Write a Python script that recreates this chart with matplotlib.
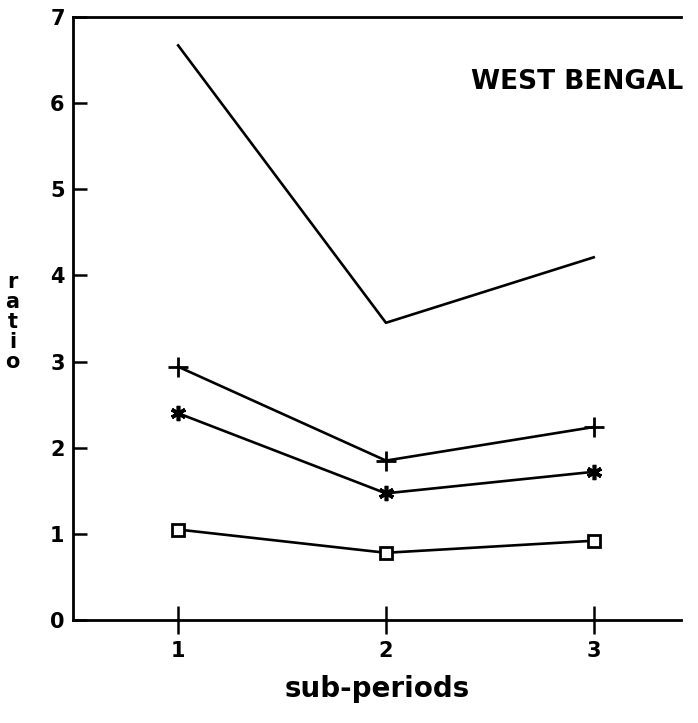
import matplotlib
matplotlib.use('Agg')
import numpy as np
import matplotlib.pyplot as plt

periods = [1, 2, 3]
top_line = [6.67, 3.45, 4.21]
plus_line = [2.94, 1.85, 2.24]
star_line = [2.40, 1.47, 1.72]
square_line = [1.05, 0.78, 0.92]

plt.rcParams['font.family'] = ['DejaVu Sans']
plt.rcParams['font.weight'] = 'bold'

fig = plt.figure(figsize=(6.98, 7.23), dpi=100)
ax = fig.add_axes([0.1046, 0.1425, 0.871, 0.834])

ax.plot(periods, top_line, 'k-', lw=1.9)
ax.plot(periods, plus_line, 'k-', lw=1.9, marker='+', ms=14, mew=2)
ax.plot(periods, star_line, 'k-', lw=1.9, marker=(6, 2, 0), ms=11, mew=2.6)
ax.plot(periods, square_line, 'k-', lw=1.9, marker='s', ms=8, mfc='white', mew=2)

ax.set_xlim(0.494, 3.42)
ax.set_ylim(0, 7)
ax.set_xticks(periods)
ax.set_yticks(range(0, 8))
ax.tick_params(axis='x', direction='inout', length=20, width=1.8, labelsize=15, pad=5)
ax.tick_params(axis='y', direction='in', length=10, width=1.8, labelsize=15, pad=6)
for s in ['left', 'top', 'bottom']:
    ax.spines[s].set_linewidth(2)
ax.spines['right'].set_visible(False)

ax.set_xlabel("sub-periods", fontsize=20, fontweight='bold', labelpad=10)
fig.text(0.018, 0.555, "r\na\nt\ni\no", fontsize=15, fontweight='bold',
         ha='center', va='center', linespacing=1.0)
ax.text(1.003, 0.892, "WEST BENGAL", transform=ax.transAxes, fontsize=19,
        fontweight='bold', ha='right', va='center')

fig.savefig("out.png", dpi=100)
